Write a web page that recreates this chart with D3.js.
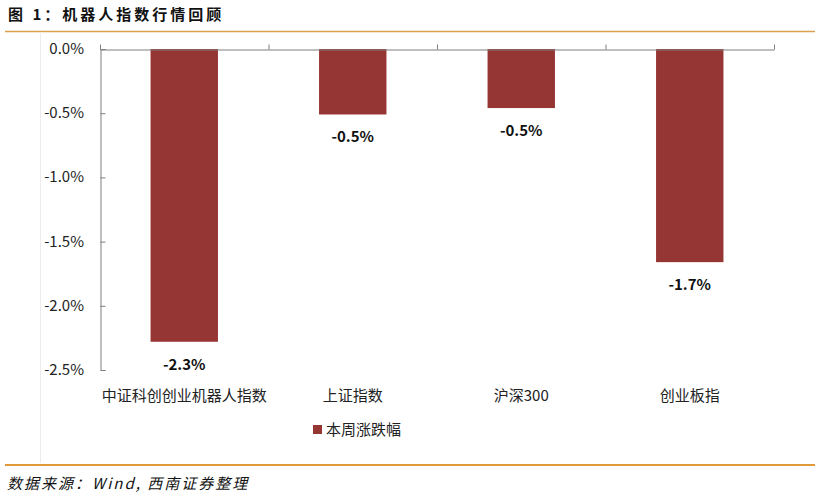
<!DOCTYPE html>
<html>
<head>
<meta charset="utf-8">
<script src="https://cdn.jsdelivr.net/npm/d3@7"></script>
<style>
  body { margin: 0; background: #fff; }
  svg { display: block; font-family: "Noto Sans CJK SC", "Noto Sans", sans-serif; }
</style>
</head>
<body>
<script>
const categories = ['中证科创创业机器人指数', '上证指数', '沪深300', '创业板指'];
const values = [-2.28, -0.51, -0.46, -1.66];
const valueLabels = ['-2.3%', '-0.5%', '-0.5%', '-1.7%'];
const yTicks = [0, -0.5, -1.0, -1.5, -2.0, -2.5];
const seriesName = '本周涨跌幅';

const W = 821;
const H = 496;
const barColor = '#963634';
const lineColor = '#d9a14e';

const svg = d3.select('body')
  .append('svg')
  .attr('width', W)
  .attr('height', H);

// title and frame lines
svg.append('text')
  .attr('x', 8)
  .attr('y', 20)
  .style('font-size', '15px')
  .style('font-weight', 'bold')
  .style('letter-spacing', '3px')
  .attr('fill', '#111')
  .text('图 1：机器人指数行情回顾');

svg.append('line')
  .attr('x1', 5).attr('x2', 815)
  .attr('y1', 31.5).attr('y2', 31.5)
  .attr('stroke', lineColor)
  .attr('stroke-width', 1.5);

svg.append('line')
  .attr('x1', 40.5).attr('x2', 40.5)
  .attr('y1', 32).attr('y2', 463)
  .attr('stroke', '#ececec');

svg.append('line')
  .attr('x1', 5).attr('x2', 815)
  .attr('y1', 465).attr('y2', 465)
  .attr('stroke', '#e09a3a')
  .attr('stroke-width', 2);

svg.append('text')
  .attr('x', 7)
  .attr('y', 489)
  .style('font-size', '15px')
  .style('font-style', 'italic')
  .style('letter-spacing', '2px')
  .attr('fill', '#111')
  .text('数据来源：Wind, 西南证券整理');

// plot
const x = d3.scaleBand()
  .domain(categories)
  .range([100, 774])
  .paddingInner(0.6)
  .paddingOuter(0.3);

const y = d3.scaleLinear()
  .domain([0, -2.5])
  .range([49, 370]);

const g = svg.append('g');

g.selectAll('.bar')
  .data(values)
  .enter().append('rect')
  .attr('class', 'bar')
  .attr('x', (d, i) => x(categories[i]))
  .attr('y', y(0))
  .attr('width', x.bandwidth())
  .attr('height', (d) => y(d) - y(0))
  .attr('fill', barColor);

g.selectAll('.vlabel')
  .data(values)
  .enter().append('text')
  .attr('class', 'vlabel')
  .attr('x', (d, i) => x(categories[i]) + x.bandwidth() / 2)
  .attr('y', (d) => y(d) + 28)
  .attr('text-anchor', 'middle')
  .style('font-size', '15px')
  .style('font-weight', 'bold')
  .attr('fill', '#111')
  .text((d, i) => valueLabels[i]);

// y axis, ticks pointing inward
const yAxis = d3.axisRight(y)
  .tickValues(yTicks)
  .tickSize(5)
  .tickFormat('');

const ya = g.append('g')
  .attr('transform', 'translate(100.5,0)')
  .call(yAxis);
ya.selectAll('path, line').attr('stroke', '#7f7f7f');

g.selectAll('.ytick')
  .data(yTicks)
  .enter().append('text')
  .attr('class', 'ytick')
  .attr('x', 84)
  .attr('y', (d) => y(d) + 5)
  .attr('text-anchor', 'end')
  .style('font-size', '15px')
  .attr('fill', '#222')
  .text((d) => `${d.toFixed(1)}%`);

// x axis along zero, ticks between categories pointing up
const xEdgeScale = d3.scaleLinear().domain([0, categories.length]).range([100, 774]);
const xa = g.append('g')
  .attr('transform', `translate(0,${y(0) + 0.5})`)
  .call(d3.axisTop(xEdgeScale)
    .tickValues(d3.range(categories.length + 1))
    .tickSize(5)
    .tickSizeOuter(0)
    .tickFormat(''));
xa.selectAll('path, line').attr('stroke', '#7f7f7f');

g.selectAll('.xlabel')
  .data(categories)
  .enter().append('text')
  .attr('class', 'xlabel')
  .attr('x', (d) => x(d) + x.bandwidth() / 2)
  .attr('y', 401)
  .attr('text-anchor', 'middle')
  .style('font-size', '15px')
  .attr('fill', '#222')
  .text((d) => d);

// legend
const legend = svg.append('g')
  .attr('transform', 'translate(313,425)');
legend.append('rect')
  .attr('width', 9)
  .attr('height', 9)
  .attr('fill', barColor);
legend.append('text')
  .attr('x', 13)
  .attr('y', 10)
  .style('font-size', '15px')
  .attr('fill', '#222')
  .text(seriesName);
</script>
</body>
</html>
